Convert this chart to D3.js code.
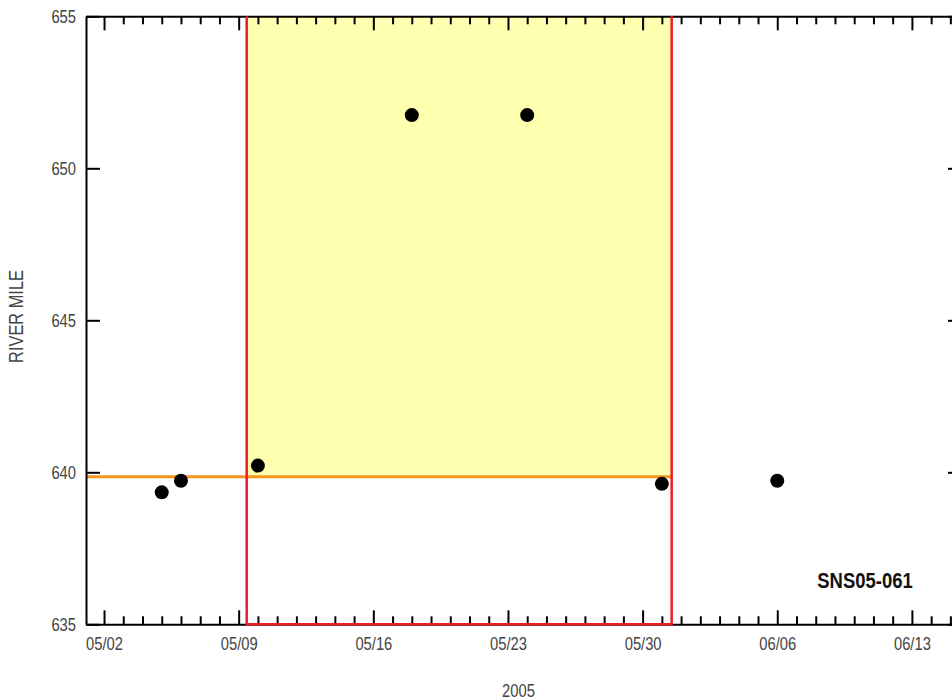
<!DOCTYPE html>
<html>
<head>
<meta charset="utf-8">
<script src="https://cdn.jsdelivr.net/npm/d3@7"></script>
<style>
  html, body { margin: 0; padding: 0; background: #fff; }
  svg { display: block; }
  text { font-family: "Liberation Sans Narrow", "Arial Narrow", "Liberation Sans", Arial, sans-serif; }
</style>
</head>
<body>
<svg id="chart" width="952" height="700"></svg>
<script>
// ---- data ----
const sampleDates = ["2005-05-05", "2005-05-06", "2005-05-10", "2005-05-18", "2005-05-24", "2005-05-31", "2005-06-06"];
const riverMile = [639.34, 639.72, 640.22, 651.75, 651.75, 639.62, 639.72];
const yTickValues = [635, 640, 645, 650, 655];
const xMajorLabels = ["05/02", "05/09", "05/16", "05/23", "05/30", "06/06", "06/13"];
const xDomain = ["2005-05-01T01:30", "2005-06-15T14:30"];
const yDomain = [635, 655];
const windowStart = "2005-05-09T10:00";
const windowEnd = "2005-05-31T12:15";
const windowFloor = 639.85;
const yLabel = "RIVER MILE";
const xLabel = "2005";
const siteLabel = "SNS05-061";

// ---- setup ----
const parseDay = d3.timeParse("%Y-%m-%d");
const parseDT = d3.timeParse("%Y-%m-%dT%H:%M");
const fmt = d3.timeFormat("%m/%d");
const narrow = 0.82;

const mLeft = 86, mRight = 962, mTop = 16.3, mBottom = 624.3;
const svg = d3.select("#chart");

const x = d3.scaleTime().domain(xDomain.map(parseDT)).range([mLeft, mRight]);
const y = d3.scaleLinear().domain(yDomain).range([mBottom, mTop]);

const days = d3.timeDay.range(d3.timeDay.ceil(x.domain()[0]), x.domain()[1]);
const isMajor = d => xMajorLabels.includes(fmt(d));

const points = sampleDates.map((d, i) => ({ date: parseDay(d), value: riverMile[i] }));

const ws = parseDT(windowStart), we = parseDT(windowEnd);

// yellow window
svg.append("rect")
  .attr("x", x(ws)).attr("y", y(yDomain[1]))
  .attr("width", x(we) - x(ws)).attr("height", y(windowFloor) - y(yDomain[1]))
  .attr("fill", "#FFFFB0");

// orange level line
svg.append("line")
  .attr("x1", x.range()[0]).attr("x2", x(we))
  .attr("y1", y(windowFloor)).attr("y2", y(windowFloor))
  .attr("stroke", "#F7941E").attr("stroke-width", 3);

// axes
function styleAxis(g) {
  g.selectAll("path.domain").attr("stroke", "#000").attr("stroke-width", 2);
  g.selectAll(".tick line").attr("stroke", "#000").attr("stroke-width", 2);
  g.selectAll(".tick text").attr("fill", "#444").style("font-size", "18px")
    .style("font-family", "'Liberation Sans Narrow', 'Arial Narrow', 'Liberation Sans', Arial, sans-serif");
}

const gB = svg.append("g").attr("transform", `translate(0,${mBottom})`)
  .call(d3.axisBottom(x).tickValues(days).tickSizeInner(-8).tickSizeOuter(0).tickPadding(13)
    .tickFormat(d => isMajor(d) ? fmt(d) : ""));
gB.selectAll(".tick line").filter(d => isMajor(d)).attr("y2", -14);
styleAxis(gB);
gB.selectAll(".tick text").attr("transform", `scale(${narrow},1)`);

const gT = svg.append("g").attr("transform", `translate(0,${mTop})`)
  .call(d3.axisTop(x).tickValues(days).tickSizeInner(-8).tickSizeOuter(0).tickFormat(""));
gT.selectAll(".tick line").filter(d => isMajor(d)).attr("y2", 14);
styleAxis(gT);

const gL = svg.append("g").attr("transform", `translate(${mLeft},0)`)
  .call(d3.axisLeft(y).tickValues(yTickValues).tickSizeInner(-14).tickSizeOuter(0).tickPadding(10)
    .tickFormat(d3.format("d")));
styleAxis(gL);
gL.selectAll(".tick text").attr("x", -10 / narrow).attr("transform", `scale(${narrow},1)`);

const gR = svg.append("g").attr("transform", `translate(${mRight},0)`)
  .call(d3.axisRight(y).tickValues(yTickValues).tickSizeInner(-14).tickSizeOuter(0).tickFormat(""));
styleAxis(gR);

// red window outline (left, bottom, right)
svg.append("path")
  .attr("d", `M${x(ws)},${y(yDomain[1])} V${y(yDomain[0])} H${x(we)} V${y(yDomain[1])}`)
  .attr("fill", "none").attr("stroke", "#EE1C24").attr("stroke-width", 2.5);

// points
svg.append("g").selectAll("circle").data(points).join("circle")
  .attr("cx", d => x(d.date)).attr("cy", d => y(d.value)).attr("r", 7)
  .attr("fill", "#000");

// labels
svg.append("g")
  .attr("transform", `translate(23,316.5) rotate(-90) scale(${narrow},1)`)
  .append("text")
  .attr("text-anchor", "middle").attr("fill", "#444").style("font-size", "20px")
  .text(yLabel);

svg.append("g").attr("transform", `translate(518.5,697) scale(${narrow},1)`)
  .append("text").attr("text-anchor", "middle")
  .attr("fill", "#444").style("font-size", "18px")
  .text(xLabel);

svg.append("g").attr("transform", `translate(865,588) scale(0.84,1)`)
  .append("text").attr("text-anchor", "middle")
  .attr("fill", "#111").style("font-size", "22px").style("font-weight", "bold")
  .text(siteLabel);
</script>
</body>
</html>
